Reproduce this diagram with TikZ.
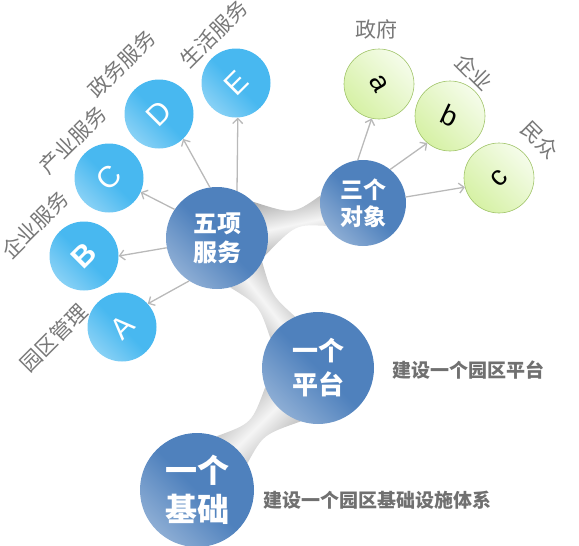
\documentclass[tikz,border=0pt]{standalone}
\usepackage{fontspec}
\setmainfont{Liberation Sans}
\newfontfamily\cjk{Noto Sans CJK SC}
\usetikzlibrary{arrows.meta, calc, backgrounds}

\definecolor{hubblue}{RGB}{79,129,189}
\definecolor{skyblue}{RGB}{72,184,240}
\definecolor{leafgreen}{RGB}{214,241,165}
\definecolor{leaflight}{RGB}{245,252,234}
\definecolor{leafedge}{RGB}{160,196,105}
\definecolor{labelgray}{RGB}{120,120,120}
\definecolor{notegray}{RGB}{112,112,112}
\definecolor{arrowgray}{RGB}{185,185,185}

\begin{document}
\begin{tikzpicture}[
x=1pt, y=-1pt,
>={Straight Barb[length=5pt,width=10pt]},
hub/.style={
circle,
inner sep=0pt,
top color=hubblue,
bottom color=hubblue!65!white,
middle color=hubblue,
shading angle=-45,
text=white,
align=center
},
service/.style={
circle,
inner sep=0pt,
minimum size=69pt,
top color=skyblue,
bottom color=skyblue!65!white,
middle color=skyblue,
shading angle=-45,
text=white,
font=\fontsize{30}{30}\selectfont
},
target/.style={
circle,
inner sep=0pt,
minimum size=70pt,
draw=leafedge,
line width=0.6pt,
top color=leaflight,
bottom color=leafgreen,
shading angle=-45,
font=\fontsize{28}{28}\selectfont
},
tag/.style={
text=labelgray,
inner sep=0pt,
font=\cjk\fontsize{21}{24}\selectfont
},
note/.style={
text=notegray,
inner sep=0pt,
anchor=west,
font=\cjk\bfseries\fontsize{19}{22}\selectfont
},
tube/.style={top color=gray!65, bottom color=gray!65, middle color=gray!8},
line/.style={draw=arrowgray, line width=1.3pt, ->}
]
\useasboundingbox (0,0) rectangle (579,546);

% Nodes
\node[hub, minimum size=102pt, font=\cjk\bfseries\fontsize{24}{29}\selectfont] (services) at (217,238) {五项\\服务};
\node[hub, minimum size=86pt, font=\cjk\bfseries\fontsize{23}{27}\selectfont] (objects) at (363,203) {三个\\对象};
\node[hub, minimum size=112pt, font=\cjk\bfseries\fontsize{26}{34}\selectfont] (platform) at (318,368) {一个\\平台};
\node[hub, minimum size=114pt, font=\cjk\bfseries\fontsize{32}{39}\selectfont] (base) at (197,490) {一个\\基础};

\node[service] (park) at (122,327) {\rotatebox{45}{A}};
\node[service] (enterprise) at (84,256) {\rotatebox{45}{\bfseries B}};
\node[service] (industry) at (109,178) {\rotatebox{45}{C}};
\node[service] (govaffairs) at (159,114) {\rotatebox{45}{D}};
\node[service] (living) at (236,83) {\rotatebox{45}{E}};

\node[target] (government) at (379,84) {\rotatebox{-60}{a}};
\node[target] (company) at (450,116) {\rotatebox{-25}{b}};
\node[target] (public) at (499,178) {\rotatebox{45}{c}};

% Labels
\node[tag, rotate=45] (parktag) at (54,338) {园区管理};
\node[tag, rotate=45] (enterprisetag) at (35,225) {企业服务};
\node[tag, rotate=45] (industrytag) at (73,140) {产业服务};
\node[tag, rotate=45] (govaffairstag) at (122,64) {政务服务};
\node[tag, rotate=45] (livingtag) at (214,34) {生活服务};

\node[tag] (governmenttag) at (376,29) {政府};
\node[tag, rotate=-45] (companytag) at (474,72) {企业};
\node[tag, rotate=-45] (publictag) at (540,140) {民众};

\node[note] (platformnote) at (392,370) {建设一个园区平台};
\node[note] (basenote) at (263,500) {建设一个园区基础设施体系};

% Tubes
\begin{scope}[on background layer]
\path[tube, shading angle=12]
(services.45) .. controls ($(services)!0.53!(objects)!5pt!90:(objects)$) .. (objects.170)
-- (objects.212) .. controls ($(services)!0.53!(objects)!5pt!-90:(objects)$) .. (services.-20) -- cycle;
\path[tube, shading angle=-52]
(services.-28) .. controls ($(services)!0.48!(platform)!8pt!90:(platform)$) .. (platform.114)
-- (platform.148) .. controls ($(services)!0.48!(platform)!8pt!-90:(platform)$) .. (services.-75) -- cycle;
\path[tube, shading angle=45]
(platform.252) .. controls ($(platform)!0.5!(base)!8pt!90:(base)$) .. (base.28)
-- (base.70) .. controls ($(platform)!0.5!(base)!8pt!-90:(base)$) .. (platform.200) -- cycle;
\end{scope}

% Connections
\draw[line] (services.237) -- (park.42);
\draw[line] (services.191) -- (enterprise.0);
\draw[line] (services.146) -- (industry.-24);
\draw[line] (services.98) -- (govaffairs.-46);
\draw[line] (services.67) -- (living.-87);

\draw[line] (objects.97) -- (government.258);
\draw[line] (objects.51) -- (company.230);
\draw[line] (objects.8) -- (public.195);

\end{tikzpicture}
\end{document}
